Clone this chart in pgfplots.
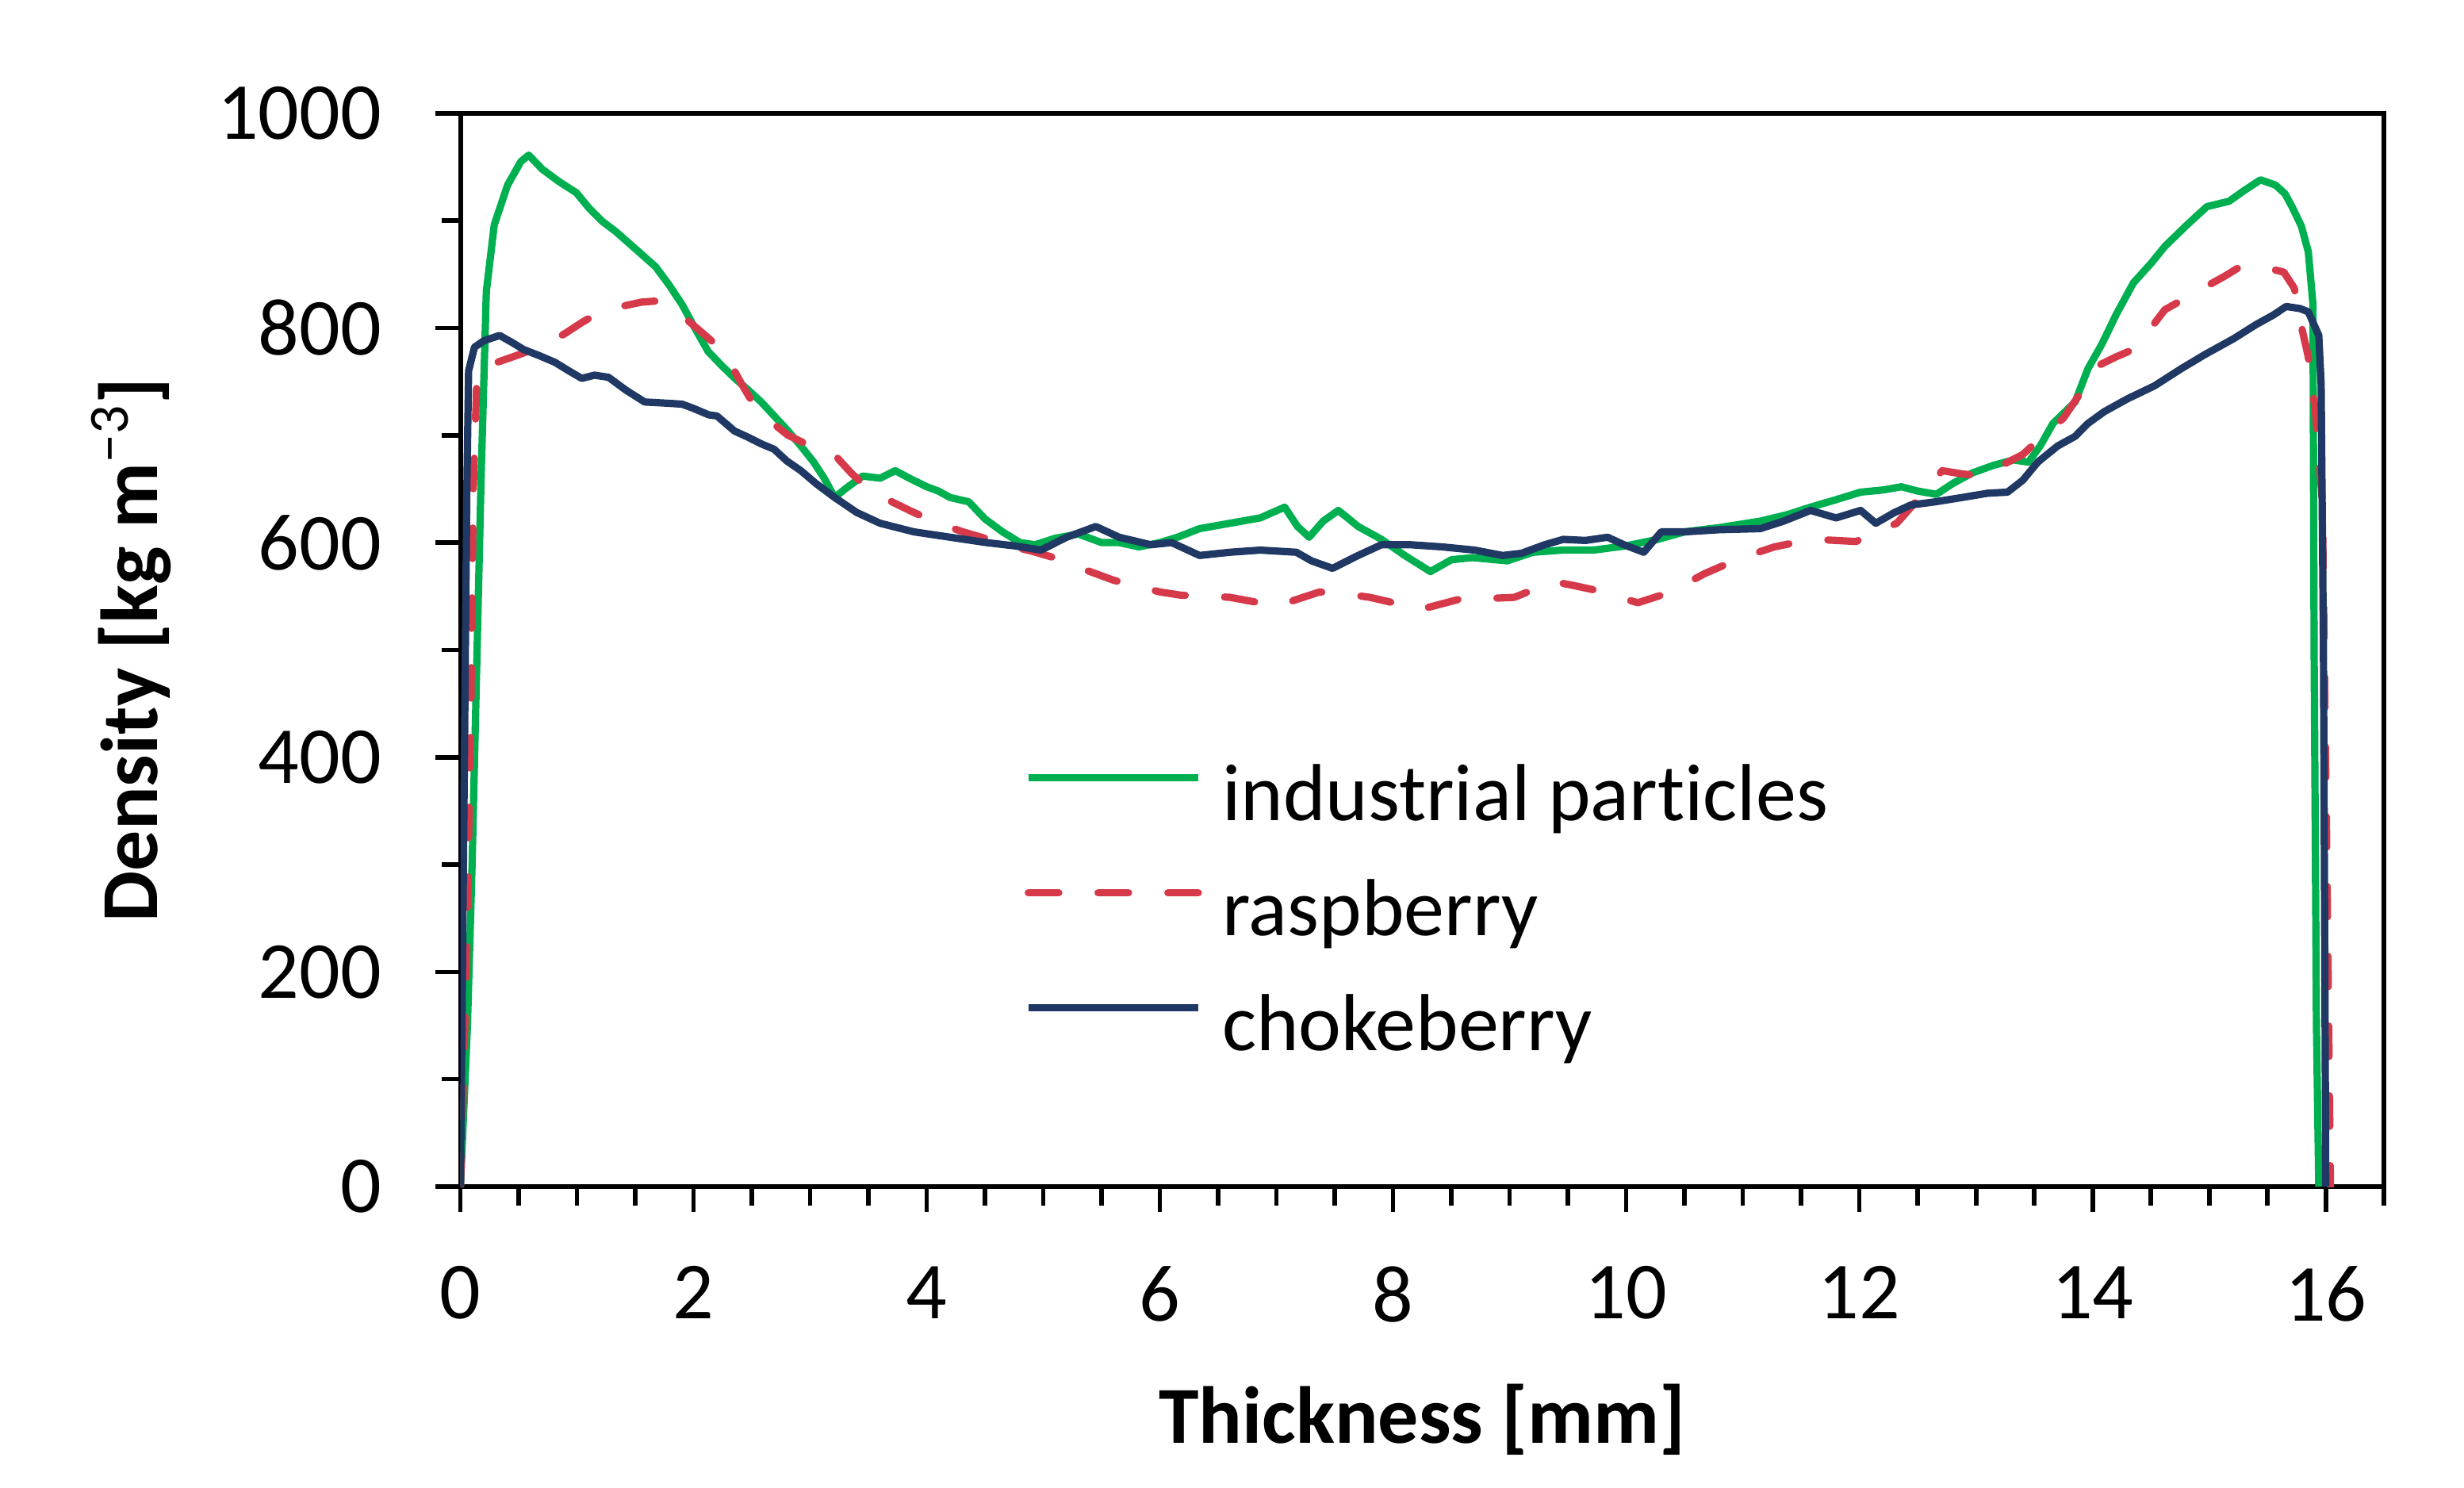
\documentclass[border=0pt]{standalone}
\usepackage{fontspec}
\setmainfont{Carlito}[Ligatures={NoCommon}]
\usepackage{pgfplots}
\pgfplotsset{compat=1.18}
\definecolor{cgreen}{RGB}{0,176,80}
\definecolor{cred}{RGB}{214,58,74}
\definecolor{cnavy}{RGB}{31,56,100}
\begin{document}%
\begin{tikzpicture}[font=\fontsize{25.5}{30}\selectfont]
\useasboundingbox (0,0) rectangle (776.75pt,468.75pt);
\begin{axis}[
  at={(145.15pt,94.75pt)}, anchor=south west,
  scale only axis, width=606.4pt, height=338.3pt,
  xmin=0, xmax=16.5, ymin=0, ymax=1000,
  xtick={0,2,...,16}, minor xtick={0.5,1,...,16.5},
  ytick={0,200,...,1000}, minor ytick={100,300,...,900},
  axis line style={line width=1.5pt},
  tick align=outside, xtick pos=bottom, ytick pos=left,
  major tick length=8pt, minor tick length=6pt,
  every tick/.style={black, line width=1.4pt},
  /pgf/number format/assume math mode=true,
  /pgf/number format/1000 sep={},
  ticklabel style={inner sep=0pt},
  yticklabel shift=16.75pt,
  xticklabel shift=17pt,
  xlabel={\bfseries Thickness [mm]},
  ylabel={\bfseries Density [kg m\textsuperscript{\mdseries −3}]},
  every axis x label/.style={at={(axis description cs:0.5,-0.2389)}, anchor=base},
  every axis y label/.style={at={(axis description cs:-0.1577,0.5)}, rotate=90, anchor=base},
  legend style={at={(axis description cs:0.2933,0.391)}, anchor=north west,
    draw=none, fill=none, inner sep=0pt, outer sep=0pt, row sep=14.2pt,
    nodes={inner sep=0pt, text height=17pt, text depth=5pt, anchor=west},
    /tikz/every odd column/.append style={column sep=6.4pt}},
  legend cell align=left,
  legend image code/.code={\draw[#1] (1.2pt,7.5pt) -- (54.8pt,7.5pt);},
]
\addplot[cgreen, line width=2.3pt, line join=round] coordinates {
(0,0) (0.06,150) (0.1,300) (0.13,440) (0.16,580) (0.178,664) (0.2,748) (0.222,834)
(0.29,896) (0.404,933) (0.518,955) (0.586,961) (0.7,948) (0.85,936) (0.994,926)
(1.1,912) (1.22,899) (1.33,890) (1.445,879) (1.56,868) (1.674,857) (1.79,840)
(1.9,822) (2.01,800) (2.125,778) (2.24,765) (2.354,753) (2.47,742) (2.58,731)
(2.7,717) (2.81,704) (2.92,690) (3.03,675) (3.12,660) (3.21,642) (3.3,650)
(3.45,662) (3.6,660) (3.73,667) (3.85,660) (4.0,652) (4.1,648) (4.2,642)
(4.36,638) (4.5,622) (4.65,610) (4.8,600) (4.93,598) (5.1,604) (5.3,608)
(5.5,600) (5.65,600) (5.82,596) (6.0,600) (6.15,605) (6.34,613) (6.6,618)
(6.86,623) (7.07,633) (7.18,615) (7.28,605) (7.4,620) (7.53,630) (7.7,615)
(7.9,603) (8.1,588) (8.32,573) (8.5,584) (8.68,586) (8.98,583) (9.2,591)
(9.45,593) (9.72,593) (10.0,597) (10.27,603) (10.5,610) (10.8,614) (11.15,620)
(11.38,626) (11.58,633) (11.8,640) (12.01,647) (12.2,649) (12.36,652) (12.5,648)
(12.66,645) (12.8,655) (12.97,665) (13.15,672) (13.32,677) (13.45,675) (13.55,690)
(13.66,711) (13.85,731) (13.96,762) (14.08,785) (14.2,812) (14.35,842) (14.5,860)
(14.62,876) (14.8,895) (14.98,913) (15.17,918) (15.3,928) (15.44,938) (15.57,933)
(15.65,925) (15.71,913) (15.79,895) (15.85,871) (15.89,822) (15.9,500) (15.92,150)
(15.94,0)
};
\addlegendentry{industrial particles}
\addplot[cred, line width=2.3pt, line join=round, line cap=round, dash pattern=on 9.6pt off 12.4pt] coordinates {
(0,0) (0.05,200) (0.09,450) (0.11,650) (0.14,750) (0.2,765) (0.29,767) (0.5,775)
(0.72,784) (0.9,795) (1.04,805) (1.2,815) (1.38,820) (1.55,824) (1.67,825)
(1.8,818) (1.95,807) (2.1,793) (2.26,778) (2.4,750) (2.53,726) (2.67,712)
(2.81,700) (3.0,690) (3.19,684) (3.35,665) (3.53,647) (3.7,638) (3.89,628)
(4.1,618) (4.31,610) (4.5,604) (4.67,598) (4.9,592) (5.09,586) (5.25,578)
(5.4,573) (5.6,565) (5.82,559) (6.0,554) (6.18,551) (6.4,550) (6.6,549)
(6.8,545) (7.01,541) (7.2,548) (7.37,554) (7.6,552) (7.8,549) (8.0,544)
(8.21,537) (8.42,543) (8.63,549) (8.83,548) (9.04,549) (9.2,556) (9.36,564)
(9.55,560) (9.72,556) (9.9,550) (10.1,544) (10.3,551) (10.5,561) (10.67,571)
(10.84,579) (11.05,588) (11.27,596) (11.45,600) (11.62,603) (11.8,602) (11.97,601)
(12.15,610) (12.32,618) (12.5,640) (12.71,667) (12.88,664) (13.05,662) (13.22,672)
(13.4,682) (13.58,700) (13.75,716) (13.9,740) (14.05,765) (14.2,773) (14.35,780)
(14.5,800) (14.62,817) (14.8,828) (14.98,839) (15.13,848) (15.28,858) (15.45,857)
(15.64,852) (15.73,837) (15.8,797) (15.85,773) (15.91,723) (15.97,640) (16.01,300)
(16.04,0)
};
\addlegendentry{raspberry}
\addplot[cnavy, line width=2.3pt, line join=round] coordinates {
(0,0) (0.03,350) (0.055,650) (0.07,760) (0.12,782) (0.2,788) (0.336,793) (0.45,786)
(0.54,780) (0.68,774) (0.81,768) (0.93,760) (1.04,753) (1.15,756) (1.27,754)
(1.42,742) (1.58,731) (1.75,730) (1.9,729) (2.0,725) (2.13,719) (2.2,718)
(2.35,704) (2.47,698) (2.58,692) (2.69,687) (2.8,676) (2.92,667) (3.05,655)
(3.21,642) (3.4,628) (3.6,618) (3.89,610) (4.2,605) (4.51,600) (4.75,597)
(4.98,593) (5.2,605) (5.45,615) (5.65,605) (5.92,598) (6.1,600) (6.34,588)
(6.6,591) (6.86,593) (7.17,591) (7.3,583) (7.48,576) (7.7,588) (7.9,598)
(8.15,598) (8.42,596) (8.7,593) (8.94,588) (9.1,590) (9.3,598) (9.46,603)
(9.65,602) (9.84,605) (9.98,598) (10.15,591) (10.3,610) (10.5,610) (10.8,612)
(11.15,613) (11.35,620) (11.58,630) (11.8,623) (12.01,630) (12.14,618) (12.3,628)
(12.44,635) (12.65,638) (12.88,642) (13.1,646) (13.27,647) (13.4,658) (13.53,675)
(13.7,690) (13.85,699) (13.96,711) (14.1,722) (14.3,734) (14.53,746) (14.76,762)
(14.96,775) (15.21,790) (15.4,803) (15.55,812) (15.66,820) (15.78,818) (15.85,815)
(15.94,793) (15.96,748) (15.98,500) (16.0,0)
};
\addlegendentry{chokeberry}
\end{axis}
\end{tikzpicture}%
\end{document}
